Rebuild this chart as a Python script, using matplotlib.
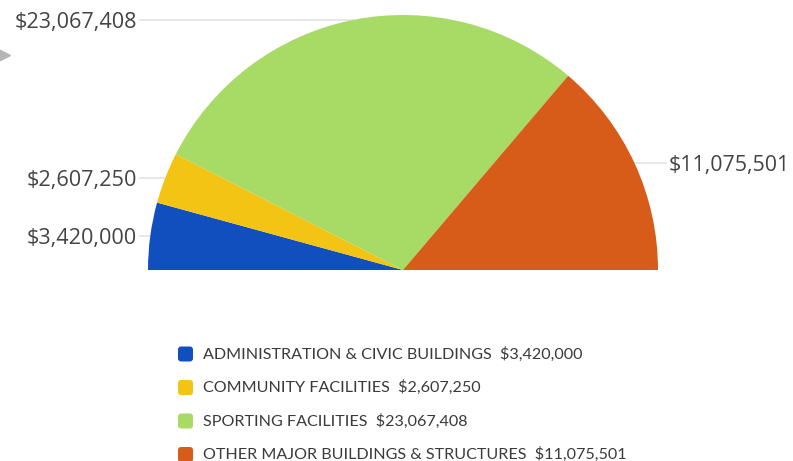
import numpy as np
import matplotlib
matplotlib.use("Agg")
import matplotlib.pyplot as plt
from matplotlib.patches import FancyBboxPatch

# ============ Données ============
categories = ["ADMINISTRATION & CIVIC BUILDINGS", "COMMUNITY FACILITIES",
              "SPORTING FACILITIES", "OTHER MAJOR BUILDINGS & STRUCTURES"]
values = [3420000, 2607250, 23067408, 11075501]
colors = ["#124fbe", "#f4c415", "#a8da66", "#d75c19"]

W, H = 793, 461
cx, cy, R = 403, H - 270, 255        # centre du demi-cercle (coord. pixels, y vers le haut)
text_col = "#444444"
line_col = "#e3e3e3"

fig = plt.figure(figsize=(W / 100, H / 100), dpi=100)
ax = fig.add_axes([0, 0, 1, 1])

total = sum(values)
fracs = [v / total / 2 for v in values]   # demi-camembert
wedges, _ = ax.pie(fracs, colors=colors, startangle=180, counterclock=False,
                   normalize=False, radius=R, center=(cx, cy),
                   wedgeprops=dict(linewidth=0))

# Étiquettes avec lignes de rappel horizontales
for w, v in zip(wedges, values):
    ang = np.deg2rad((w.theta1 + w.theta2) / 2)
    px, py = cx + R * np.cos(ang), cy + R * np.sin(ang)
    lab = f"${v:,.0f}"
    if np.cos(ang) < 0:
        tx = 137
        ax.plot([tx + 3, px], [py, py], color=line_col, lw=1.2, zorder=0)
        ax.text(tx, py - 3, lab, ha="right", va="center", fontsize=15.6,
                family="Open Sans", color=text_col)
    else:
        tx = 669
        ax.plot([px, tx - 3], [py, py], color=line_col, lw=1.2, zorder=0)
        ax.text(tx, py - 3, lab, ha="left", va="center", fontsize=15.4,
                family="Open Sans", color=text_col)

# Légende
for i, (c, name, v) in enumerate(zip(colors, categories, values)):
    y = H - 354 - i * 33.5
    ax.add_patch(FancyBboxPatch((178, y - 7.5), 15, 15,
                                boxstyle="round,pad=0,rounding_size=3",
                                fc=c, ec="none"))
    ax.text(203, y, f"{name}  ${v:,.0f}", ha="left", va="center",
            fontsize=11.6, family="Lato", color="#3a3a3a")

# petite flèche de navigation à gauche
ax.plot([0], [H - 55], marker=">", color="#b5b5b5", ms=15)

ax.set_xlim(0, W)
ax.set_ylim(0, H)
ax.set_aspect("equal")
ax.axis("off")
fig.savefig("out.png", dpi=100)
